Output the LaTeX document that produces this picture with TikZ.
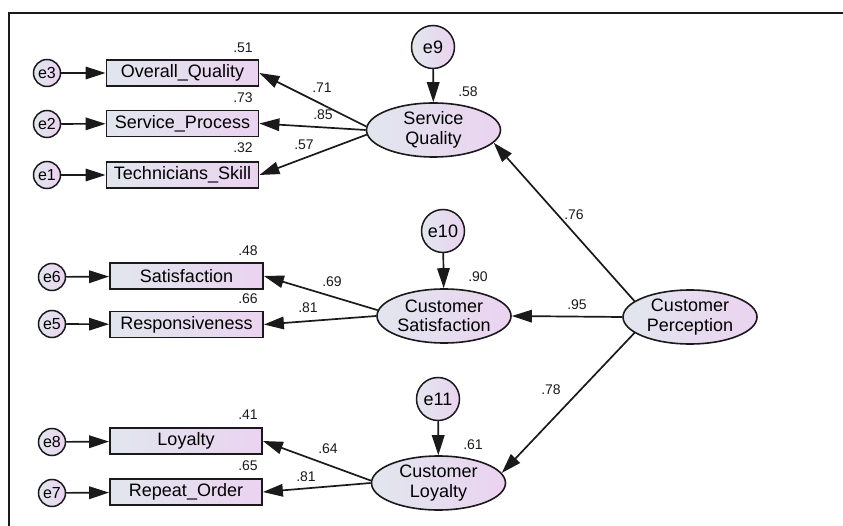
\documentclass[tikz,border=0pt]{standalone}
\usepackage{fontspec}
\setmainfont{Liberation Sans}
\usetikzlibrary{arrows.meta,shapes.geometric}
\definecolor{fillL}{HTML}{E1E6EE}
\definecolor{fillR}{HTML}{EBD3F0}
\definecolor{ink}{HTML}{1A1A1A}
\begin{document}
\begin{tikzpicture}[x=1pt,y=-1pt,
  shade box/.style={left color=fillL,right color=fillR,draw=ink},
  obs/.style={shade box,rectangle,line width=1.8pt,minimum width=152pt,minimum height=26pt,inner sep=0pt,font=\fontsize{18}{20}\selectfont},
  lat/.style={shade box,ellipse,line width=1.6pt,minimum width=134pt,minimum height=54pt,inner sep=0pt,align=center,font=\fontsize{18}{19.5}\selectfont},
  errs/.style={shade box,circle,line width=1.5pt,minimum size=27pt,inner sep=0pt,font=\fontsize{16}{18}\selectfont},
  errb/.style={shade box,circle,line width=1.5pt,minimum size=43pt,inner sep=0pt,font=\fontsize{18}{20}\selectfont},
  num/.style={inner sep=0pt,text=ink,font=\fontsize{14}{16}\selectfont},
  arr/.style={draw=ink,line width=1.7pt,-{Triangle[length=20pt,width=12.5pt]}}
]
\useasboundingbox (0,0) rectangle (843,526);
% frame
\draw[ink,line width=1.8pt] (9,540) -- (9,13) -- (860,13);

% Service Quality block
\node[errs] (e3) at (47,73) {e3};
\node[errs] (e2) at (47,124) {e2};
\node[errs] (e1) at (47,175) {e1};
\node[obs] (ov) at (182.5,73) {Overall\_Quality};
\node[obs] (sp) at (182.5,123.5) {Service\_Process};
\node[obs] (ts) at (182.5,175) {Technicians\_Skill};
\node[lat] (sq) at (433.5,130) {Service\\Quality};
\node[errb] (e9) at (433,47) {e9};

% Customer Satisfaction block
\node[errs] (e6) at (52,277) {e6};
\node[errs] (e5) at (52,324) {e5};
\node[obs,minimum width=153pt] (sat) at (186.5,276) {Satisfaction};
\node[obs,minimum width=153pt] (resp) at (186.5,324.5) {Responsiveness};
\node[lat] (cs) at (444,316) {Customer\\Satisfaction};
\node[errb] (e10) at (443,231) {e10};

\node[lat] (cp) at (690,317) {Customer\\Perception};

% Customer Loyalty block
\node[errs] (e8) at (52,442) {e8};
\node[errs] (e7) at (52,493) {e7};
\node[obs] (loy) at (186,441) {Loyalty};
\node[obs] (ro) at (186,492) {Repeat\_Order};
\node[lat] (cl) at (438.5,483) {Customer\\Loyalty};
\node[errb] (e11) at (438,399) {e11};

% connectors
\draw[arr] (e3) -- (ov);
\draw[arr] (e2) -- (sp);
\draw[arr] (e1) -- (ts);
\draw[arr] (sq.177) -- (ov.east);
\draw[arr] (sq.180) -- (sp.east);
\draw[arr] (sq.184) -- (ts.east);
\draw[arr] (e9) -- (sq);

\draw[arr] (e6) -- (sat);
\draw[arr] (e5) -- (resp);
\draw[arr] (cs.175) -- (sat.east);
\draw[arr] (cs.180) -- (resp.east);
\draw[arr] (e10) -- (cs);

\draw[arr] (e8) -- (loy);
\draw[arr] (e7) -- (ro);
\draw[arr] (cl.178) -- (loy.east);
\draw[arr] (cl.180) -- (ro.east);
\draw[arr] (e11) -- (cl);

\draw[arr] (cp.164) -- (sq.-12);
\draw[arr] (cp.west) -- (cs.east);
\draw[arr] (cp.196) -- (cl.9);

% numbers
\node[num] (n51) at (243,48) {.51};
\node[num] (n73) at (243,98) {.73};
\node[num] (n32) at (243,148) {.32};
\node[num] (n71) at (322,88) {.71};
\node[num] (n85) at (323,115) {.85};
\node[num] (n57) at (304,145) {.57};
\node[num] (n58) at (468,92) {.58};
\node[num] (n48) at (248,251) {.48};
\node[num] (n66) at (248,299) {.66};
\node[num] (n69) at (332,282) {.69};
\node[num] (n81a) at (308,308) {.81};
\node[num] (n90) at (478,277) {.90};
\node[num] (n95) at (577,305) {.95};
\node[num] (n76) at (574,215) {.76};
\node[num] (n41) at (248,415) {.41};
\node[num] (n65) at (248,466) {.65};
\node[num] (n64) at (328,449) {.64};
\node[num] (n81b) at (306,477) {.81};
\node[num] (n61) at (473,445) {.61};
\node[num] (n78) at (551,390) {.78};
\end{tikzpicture}
\end{document}
